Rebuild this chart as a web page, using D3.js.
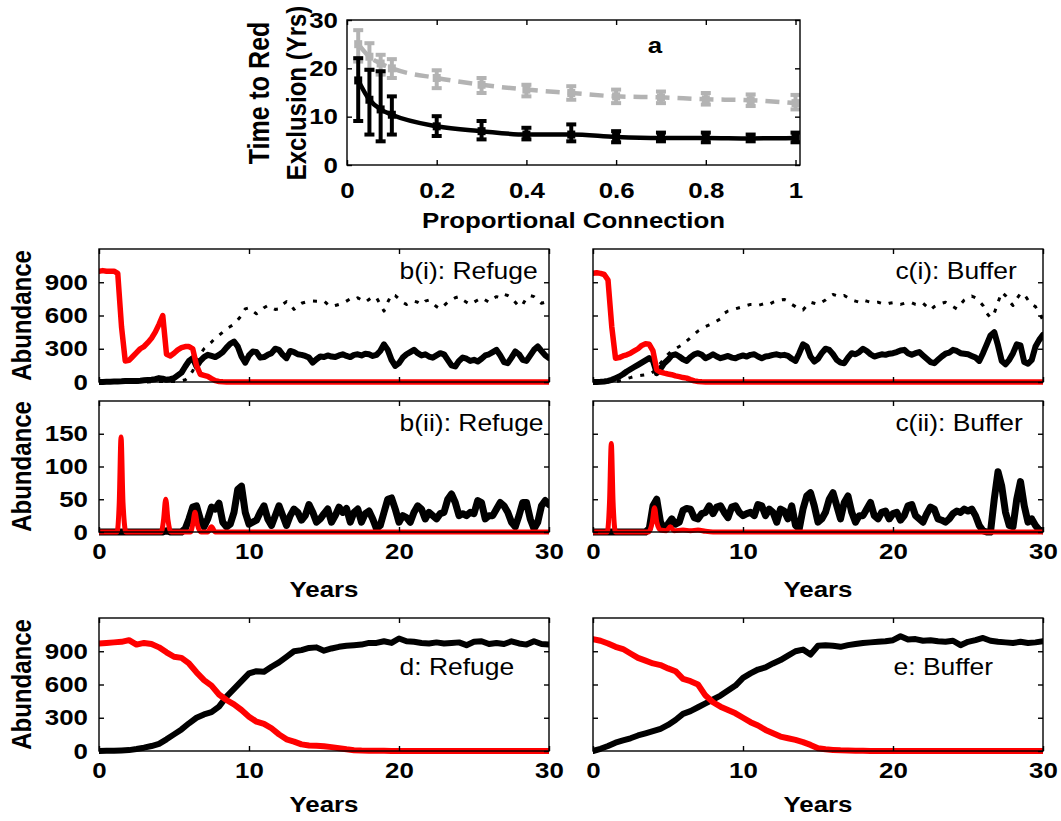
<!DOCTYPE html>
<html>
<head>
<meta charset="utf-8">
<script src="https://cdn.jsdelivr.net/npm/d3@7"></script>
<style>
  body { margin: 0; background: #fff; }
  svg text { font-family: "Liberation Sans", Arial, Helvetica, sans-serif; fill: #000; font-weight: bold; }
</style>
</head>
<body>
<svg id="fig" width="1061" height="821"></svg>
<script>
// ---------------- Panel a: time to red exclusion ----------------
const connection = [0.025, 0.05, 0.075, 0.1, 0.2, 0.3, 0.4, 0.5, 0.6, 0.7, 0.8, 0.9, 1.0];
const darkMean = [17.5, 13.5, 11.5, 10.4, 8.0, 7.0, 6.3, 6.3, 5.8, 5.6, 5.6, 5.5, 5.6];
const darkLow  = [9.1, 6.3, 4.9, 6.3, 6.0, 5.3, 5.3, 4.9, 4.7, 4.9, 4.7, 4.9, 4.7];
const darkHigh = [22.1, 19.7, 19.4, 14.2, 10.1, 9.1, 7.7, 8.4, 7.0, 6.7, 6.7, 6.3, 6.7];
const lightMean = [25.0, 22.4, 21.0, 20.0, 18.0, 16.6, 15.6, 14.9, 14.2, 14.0, 13.6, 13.4, 12.8];
const lightLow  = [21.4, 19.7, 18.7, 18.0, 15.9, 14.9, 14.2, 13.5, 12.8, 12.8, 12.5, 12.2, 11.5];
const lightHigh = [27.9, 25.2, 22.8, 21.9, 19.6, 18.0, 16.6, 16.3, 15.6, 15.2, 14.9, 14.6, 14.5];
const connTicks = [0, 0.2, 0.4, 0.6, 0.8, 1];
const exclTicks = [0, 10, 20, 30];

// ---------------- Time-series panels (sampled every 0.25 yr) ----------------
const yearTicks = [0, 10, 20, 30];
const abundTicks = [0, 300, 600, 900];
const smallTicks = [0, 50, 100, 150];

// b(i) Refuge
const refugeRedI = [
  1000,1005,1000,1000,
  1000,980,500,190,
  195,230,265,300,
  320,355,395,450,
  520,600,250,235,
  260,290,310,320,
  320,300,150,70,
  60,50,30,12,
  5,2,0,0,
  0,0,0,0, 0,0,0,0, 0,0,0,0, 0,0,0,0, 0,0,0,0,
  0,0,0,0, 0,0,0,0, 0,0,0,0, 0,0,0,0, 0,0,0,0,
  0,0,0,0, 0,0,0,0, 0,0,0,0, 0,0,0,0, 0,0,0,0,
  0,0,0,0, 0,0,0,0, 0,0,0,0, 0,0,0,0, 0,0,0,0,
  0,0,0,0,
  0];
const refugeBlackI = [
  0,0,2,3,
  4,5,6,8,
  8,10,10,12,
  15,18,20,25,
  35,30,20,25,
  35,60,85,140,
  190,215,140,190,
  225,245,235,225,
  245,270,310,345,
  365,320,230,175,
  240,275,270,220,
  225,245,260,300,
  290,245,215,280,
  270,250,245,235,
  220,175,205,230,
  225,240,230,225,
  240,250,235,225,
  245,250,240,255,
  250,235,245,280,
  340,290,200,145,
  170,220,250,270,
  290,260,240,250,
  230,220,240,260,
  250,200,150,140,
  190,220,210,190,
  200,185,210,240,
  250,270,290,240,
  180,170,220,275,
  250,200,190,240,
  290,320,280,240,
  215];
const refugeDottedI = [
  0,0,0,0,
  0,0,0,0,
  0,0,0,0,
  0,0,2,3,
  5,5,5,5,
  5,5,10,20,
  50,100,180,250,
  300,330,360,400,
  420,450,480,500,
  520,560,600,660,
  670,640,615,640,
  670,690,670,655,
  660,700,725,700,
  655,690,710,720,
  725,730,728,726,
  730,700,680,690,
  700,710,730,750,
  740,760,740,720,
  745,770,760,700,
  640,720,790,780,
  750,720,700,720,
  730,720,700,730,
  740,710,680,660,
  690,720,740,760,
  770,740,720,700,
  720,740,760,740,
  720,750,770,760,
  790,780,760,720,
  680,700,760,780,
  770,740,710,720,
  690];

// c(i) Buffer
const bufferRedI = [
  980,985,980,970,
  920,500,215,220,
  235,245,260,280,
  300,330,345,340,
  280,110,90,80,
  72,66,55,48,
  40,35,22,10,
  5,2,1,0,
  0,0,0,0, 0,0,0,0,
  0,0,0,0, 0,0,0,0, 0,0,0,0, 0,0,0,0, 0,0,0,0,
  0,0,0,0, 0,0,0,0, 0,0,0,0, 0,0,0,0, 0,0,0,0,
  0,0,0,0, 0,0,0,0, 0,0,0,0, 0,0,0,0, 0,0,0,0,
  0,0,0,0, 0,0,0,0, 0,0,0,0, 0,0,0,0, 0,0,0,0,
  0];
const bufferBlackI = [
  0,0,2,5,
  10,20,35,50,
  70,95,115,135,
  155,175,195,215,
  190,80,120,170,
  200,240,250,230,
  205,190,225,250,
  260,245,215,230,
  250,230,215,225,
  235,220,215,230,
  240,230,245,250,
  230,215,230,235,
  245,250,240,245,
  235,210,190,260,
  340,320,230,185,
  210,260,300,290,
  250,200,175,170,
  220,260,250,270,
  300,280,250,230,
  240,250,245,255,
  260,270,285,290,
  260,245,260,270,
  240,210,180,170,
  200,230,255,265,
  290,280,260,255,
  250,235,220,190,
  260,340,420,450,
  330,190,160,200,
  260,340,330,180,
  165,200,320,380,
  425];
const bufferDottedI = [
  0,0,0,0,
  0,2,5,10,
  20,30,40,50,
  55,60,65,70,
  90,120,170,210,
  250,280,300,320,
  340,370,400,430,
  460,480,500,515,
  530,550,570,620,
  640,650,660,670,
  680,690,700,700,
  690,700,710,700,
  720,730,740,745,
  730,700,680,660,
  650,690,720,710,
  700,720,740,770,
  790,780,770,780,
  760,740,730,720,
  740,730,720,715,
  720,710,700,710,
  715,705,700,710,
  720,715,700,695,
  710,680,650,680,
  700,710,720,700,
  680,660,700,740,
  760,775,760,730,
  690,620,580,620,
  720,810,780,730,
  690,750,800,790,
  740,700,680,620,
  560];

// b(ii) Refuge
const refugeBlackII = [
  0,0,0,0,
  0,0,0,0,
  0,0,0,0,
  0,0,0,0,
  0,0,2,0,
  0,0,0,5,
  20,38,40,20,
  8,20,38,35,
  44,15,8,12,
  30,65,70,30,
  12,15,18,30,
  40,20,10,25,
  40,25,10,25,
  35,30,18,25,
  42,30,15,20,
  28,35,15,25,
  38,30,36,15,
  30,35,15,28,
  32,20,5,10,
  30,50,52,35,
  15,25,22,15,
  30,40,35,20,
  30,25,20,28,
  30,50,58,45,
  25,28,25,30,
  28,48,45,20,
  25,25,35,45,
  40,30,15,8,
  25,45,45,20,
  5,15,40,48,
  42];
const refugeRedIIYears = [0, 1.2, 1.35, 1.47, 1.6, 1.8, 4.15, 4.3, 4.45, 4.6, 4.8, 6.1, 6.25, 6.4, 6.55, 6.8, 7.25, 7.5, 7.75, 30];
const refugeRedII      = [0, 0, 45, 145, 45, 0, 0, 18, 50, 18, 0, 0, 12, 30, 12, 0, 0, 8, 0, 0];

// c(ii) Buffer
const bufferBlackII = [
  0,0,0,0,
  0,0,0,0,
  0,0,0,0,
  0,0,0,5,
  40,50,15,5,
  12,20,12,15,
  33,36,35,22,
  20,28,30,40,
  28,38,40,30,
  22,38,40,30,
  25,28,30,25,
  42,40,25,35,
  30,15,35,32,
  20,40,10,5,
  35,55,60,40,
  15,20,30,50,
  60,40,20,45,
  55,30,15,25,
  25,35,45,25,
  20,30,32,20,
  28,30,18,25,
  40,42,25,20,
  15,28,38,35,
  20,18,15,20,
  28,32,30,35,
  32,35,25,10,
  2,0,0,50,
  92,70,30,10,
  8,50,77,40,
  15,20,10,3,
  2];
const bufferRedIIYears = [0, 0.95, 1.1, 1.22, 1.34, 1.5, 3.7, 3.95, 4.1, 4.25, 4.5, 4.9, 5.15, 5.4, 6.0, 6.5, 7.0, 7.5, 8.0, 30];
const bufferRedII      = [0, 0, 45, 135, 45, 0, 0, 15, 37, 15, 3, 2, 8, 2, 3, 2, 3, 1, 0, 0];

// d and e (sampled every 0.5 yr)
const refugeRedD = [
  970,975, 980,985, 1000,960, 975,965, 935,890,
  850,840, 790,710, 640,590, 510,460, 420,370,
  310,265, 245,205, 150,105, 85,60, 50,47,
  43,35, 25,15, 7,4, 3,2, 2,1,
  1,0, 0,0, 0,0, 0,0, 0,0,
  0,0, 0,0, 0,0, 0,0, 0,0,
  0];
const refugeBlackD = [
  0,2, 3,5, 8,18, 30,45, 65,105,
  150,195, 250,300, 330,350, 400,490, 560,630,
  700,720, 715,760, 800,850, 900,910, 930,935,
  905,925, 940,950, 955,960, 975,975, 990,975,
  1015,990, 985,975, 970,980, 970,975, 980,955,
  985,990, 965,975, 965,990, 970,960, 990,965,
  960];
const bufferRedE = [
  1010,995, 970,940, 920,880, 840,815, 790,775,
  745,720, 650,630, 600,500, 440,400, 370,340,
  300,260, 230,190, 160,130, 115,100, 80,55,
  25,15, 10,6, 4,3, 2,1, 0,0,
  0,0, 0,0, 0,0, 0,0, 0,0,
  0,0, 0,0, 0,0, 0,0, 0,0,
  0];
const bufferBlackE = [
  0,20, 45,75, 95,115, 140,160, 180,200,
  235,280, 335,360, 395,430, 465,500, 545,590,
  660,700, 735,755, 790,820, 860,900, 915,870,
  950,955, 950,940, 955,965, 975,980, 985,990,
  1000,1035, 1005,1010, 995,1000, 990,985, 995,955,
  985,1000, 1020,995, 985,980, 975,985, 975,980,
  990];

// ---------------- drawing ----------------
const svg = d3.select('#fig');
svg.append('rect').attr('width', 1061).attr('height', 821).attr('fill', '#fff');

const FONT = 22.5;     // horizontal text size
const FONT_ROT = 24;   // rotated axis labels
const WIDEN = 1.15;    // glyphs in this figure are drawn wide
let clipCount = 0;

// widen a text element horizontally about its own anchor point
function widen(sel) {
  sel.each(function () {
    const t = d3.select(this);
    const x = +t.attr('x') || 0, y = +t.attr('y') || 0;
    t.attr('transform', `translate(${x},${y}) scale(${WIDEN},1) translate(${-x},${-y})`);
  });
}

function makePanel(box, xDomain, yDomain) {
  const x = d3.scaleLinear().domain(xDomain).range([box.x0, box.x1]);
  const y = d3.scaleLinear().domain(yDomain).range([box.y1, box.y0]);
  const g = svg.append('g');
  const id = 'clip' + (clipCount++);
  svg.append('clipPath').attr('id', id).append('rect')
    .attr('x', box.x0).attr('y', box.y0 - 4)
    .attr('width', box.x1 - box.x0).attr('height', box.y1 - box.y0 + 8);
  const plot = g.append('g').attr('clip-path', `url(#${id})`);
  return { x, y, g, plot, box };
}

function styleAxis(sel) {
  sel.select('.domain').remove();
  sel.selectAll('.tick line').attr('stroke', '#000').attr('stroke-width', 1.4);
  sel.selectAll('.tick text')
    .style('font-size', FONT + 'px')
    .style('font-weight', 'bold')
    .style('font-family', '"Liberation Sans", Arial, sans-serif')
    .attr('fill', '#000')
    .call(widen);
}

function finishPanel(P, o) {
  const { x, y, g, box } = P;
  const TL = 5;
  g.append('g').attr('transform', `translate(0,${box.y1})`)
    .call(d3.axisBottom(x).tickValues(o.xt).tickSizeInner(-TL).tickSizeOuter(0)
      .tickPadding(o.xpad || 11).tickFormat(o.xlab ? (o.xfmt || d3.format('d')) : ''))
    .call(styleAxis);
  g.append('g').attr('transform', `translate(0,${box.y0})`)
    .call(d3.axisTop(x).tickValues(o.xt).tickSizeInner(-TL).tickSizeOuter(0).tickFormat(''))
    .call(styleAxis);
  g.append('g').attr('transform', `translate(${box.x0},0)`)
    .call(d3.axisLeft(y).tickValues(o.yt).tickSizeInner(-TL).tickSizeOuter(0)
      .tickPadding(o.ypad || 11).tickFormat(o.ylab ? d3.format('d') : ''))
    .call(styleAxis);
  g.append('g').attr('transform', `translate(${box.x1},0)`)
    .call(d3.axisRight(y).tickValues(o.yt).tickSizeInner(-TL).tickSizeOuter(0).tickFormat(''))
    .call(styleAxis);
  g.append('rect').attr('x', box.x0).attr('y', box.y0)
    .attr('width', box.x1 - box.x0).attr('height', box.y1 - box.y0)
    .attr('fill', 'none').attr('stroke', '#000').attr('stroke-width', 1.4);
}

function drawSeries(P, values, color, width, step, years, dash) {
  const xs = years || values.map((v, i) => i * step);
  const line = d3.line().x((d, i) => P.x(xs[i])).y(d => P.y(d));
  if (years) line.curve(d3.curveMonotoneX);
  const path = P.plot.append('path').datum(values)
    .attr('d', line).attr('fill', 'none').attr('stroke', color)
    .attr('stroke-width', width).attr('stroke-linejoin', 'round').attr('stroke-linecap', 'round');
  if (dash) path.attr('stroke-dasharray', dash).attr('stroke-linecap', 'butt');
  return path;
}

function hText(g, txt, x, y, anchor, size, weight) {
  return g.append('text').attr('x', x).attr('y', y)
    .attr('text-anchor', anchor || 'start')
    .style('font-size', (size || FONT) + 'px')
    .style('font-weight', weight || 'bold')
    .text(txt).call(widen);
}

// panel captions are set in the regular weight
function panelText(P, txt, fx, baseline) {
  hText(P.g, txt, P.box.x0 + fx * (P.box.x1 - P.box.x0), baseline, 'start', 23, 'normal');
}

function bottomLabel(P, txt, baseline) {
  hText(P.g, txt, (P.box.x0 + P.box.x1) / 2, baseline, 'middle');
}

function vText(g, txt, cx, cy, size) {
  g.append('text')
    .attr('transform', `translate(${cx},${cy}) scale(${WIDEN},1) rotate(-90)`)
    .attr('text-anchor', 'middle').attr('dy', '0.36em')
    .style('font-size', (size || FONT_ROT) + 'px').text(txt);
}

function leftLabel(P, txt, cx) {
  vText(P.g, txt, cx, (P.box.y0 + P.box.y1) / 2);
}

// layout boxes
const boxA   = { x0: 347, x1: 800,  y0: 20,  y1: 165 };
const boxBI  = { x0: 99,  x1: 549,  y0: 249, y1: 382 };
const boxCI  = { x0: 593, x1: 1043, y0: 249, y1: 382 };
const boxBII = { x0: 99,  x1: 549,  y0: 401, y1: 532 };
const boxCII = { x0: 593, x1: 1043, y0: 401, y1: 532 };
const boxD   = { x0: 99,  x1: 549,  y0: 618, y1: 751 };
const boxE   = { x0: 593, x1: 1043, y0: 618, y1: 751 };

// ---- panel a ----
{
  const P = makePanel(boxA, [0, 1.01], [0, 30]);
  const line = d3.line().x((d, i) => P.x(connection[i])).y(d => P.y(d)).curve(d3.curveMonotoneX);
  const groups = [
    { mean: lightMean, lo: lightLow, hi: lightHigh, color: '#b3b3b3', dash: '14,8' },
    { mean: darkMean, lo: darkLow, hi: darkHigh, color: '#000', dash: null }
  ];
  groups.forEach(s => {
    const p = P.plot.append('path').datum(s.mean).attr('d', line)
      .attr('fill', 'none').attr('stroke', s.color).attr('stroke-width', 4.5);
    if (s.dash) p.attr('stroke-dasharray', s.dash);
    const eb = P.plot.append('g').attr('stroke', s.color).attr('stroke-width', 4);
    connection.forEach((c, i) => {
      const cx = P.x(c);
      eb.append('line').attr('x1', cx).attr('x2', cx).attr('y1', P.y(s.lo[i])).attr('y2', P.y(s.hi[i]));
      eb.append('line').attr('x1', cx - 5).attr('x2', cx + 5).attr('y1', P.y(s.lo[i])).attr('y2', P.y(s.lo[i]));
      eb.append('line').attr('x1', cx - 5).attr('x2', cx + 5).attr('y1', P.y(s.hi[i])).attr('y2', P.y(s.hi[i]));
      eb.append('rect').attr('x', cx - 4).attr('y', P.y(s.mean[i]) - 4).attr('width', 8).attr('height', 8)
        .attr('fill', s.color).attr('stroke', 'none');
    });
  });
  finishPanel(P, { xt: connTicks, yt: exclTicks, xlab: true, ylab: true,
    xfmt: d => d === 0 || d === 1 ? String(d) : d3.format('.1f')(d), xpad: 17, ypad: 9 });
  hText(P.g, 'a', 655, 53, 'middle');
  vText(P.g, 'Time to Red', 259, 93, 25);
  vText(P.g, 'Exclusion (Yrs)', 296, 93, 24);
  hText(P.g, 'Proportional Connection', (boxA.x0 + boxA.x1) / 2, 228, 'middle');
}

// ---- b(i) ----
{
  const P = makePanel(boxBI, [0, 30], [0, 1200]);
  drawSeries(P, refugeDottedI, '#000', 3, 0.25, null, '4,8');
  drawSeries(P, refugeBlackI, '#000', 6, 0.25);
  drawSeries(P, refugeRedI, '#ff0000', 5.5, 0.25);
  finishPanel(P, { xt: yearTicks, yt: abundTicks, xlab: false, ylab: true });
  panelText(P, 'b(i): Refuge', 0.668, 279);
  leftLabel(P, 'Abundance', 21);
}
// ---- c(i) ----
{
  const P = makePanel(boxCI, [0, 30], [0, 1200]);
  drawSeries(P, bufferDottedI, '#000', 3, 0.25, null, '4,8');
  drawSeries(P, bufferBlackI, '#000', 6, 0.25);
  drawSeries(P, bufferRedI, '#ff0000', 5.5, 0.25);
  finishPanel(P, { xt: yearTicks, yt: abundTicks, xlab: false, ylab: false });
  panelText(P, 'c(i): Buffer', 0.672, 279);
}
// ---- b(ii) ----
{
  const P = makePanel(boxBII, [0, 30], [0, 200]);
  drawSeries(P, refugeBlackII, '#000', 7, 0.25);
  drawSeries(P, refugeRedII, '#ff0000', 5, 0, refugeRedIIYears);
  finishPanel(P, { xt: yearTicks, yt: smallTicks, xlab: true, ylab: true });
  panelText(P, 'b(ii): Refuge', 0.668, 431);
  leftLabel(P, 'Abundance', 21);
  bottomLabel(P, 'Years', 597);
}
// ---- c(ii) ----
{
  const P = makePanel(boxCII, [0, 30], [0, 200]);
  drawSeries(P, bufferBlackII, '#000', 7, 0.25);
  drawSeries(P, bufferRedII, '#ff0000', 5, 0, bufferRedIIYears);
  finishPanel(P, { xt: yearTicks, yt: smallTicks, xlab: true, ylab: false });
  panelText(P, 'c(ii): Buffer', 0.672, 431);
  bottomLabel(P, 'Years', 597);
}
// ---- d ----
{
  const P = makePanel(boxD, [0, 30], [0, 1200]);
  drawSeries(P, refugeBlackD, '#000', 6, 0.5);
  drawSeries(P, refugeRedD, '#ff0000', 6, 0.5);
  finishPanel(P, { xt: yearTicks, yt: abundTicks, xlab: true, ylab: true });
  panelText(P, 'd: Refuge', 0.668, 675);
  leftLabel(P, 'Abundance', 21);
  bottomLabel(P, 'Years', 812);
}
// ---- e ----
{
  const P = makePanel(boxE, [0, 30], [0, 1200]);
  drawSeries(P, bufferBlackE, '#000', 6, 0.5);
  drawSeries(P, bufferRedE, '#ff0000', 6, 0.5);
  finishPanel(P, { xt: yearTicks, yt: abundTicks, xlab: true, ylab: false });
  panelText(P, 'e: Buffer', 0.668, 675);
  bottomLabel(P, 'Years', 812);
}
</script>
</body>
</html>
